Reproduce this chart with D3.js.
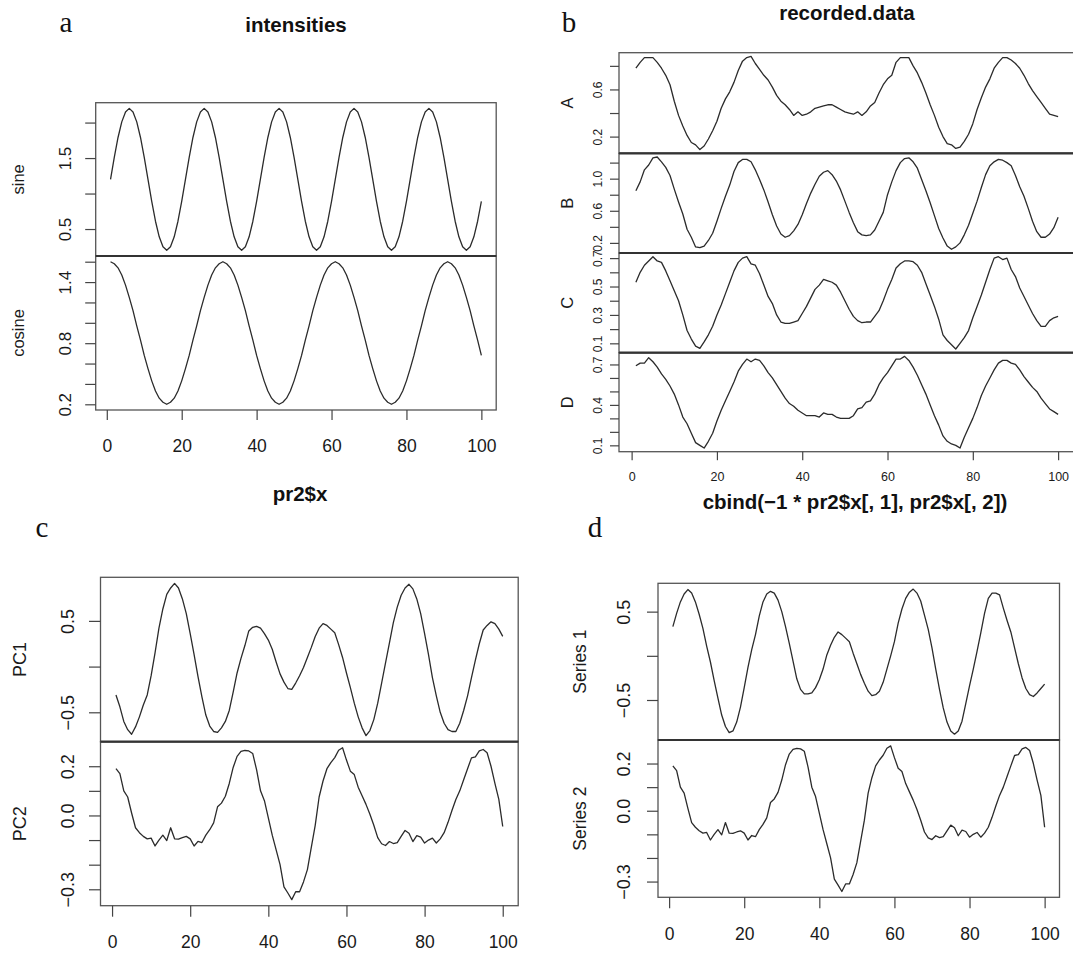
<!DOCTYPE html>
<html><head><meta charset="utf-8">
<script src="https://cdn.jsdelivr.net/npm/d3@7"></script>
<style>body{margin:0;background:#fff}svg{display:block}</style>
</head><body>
<svg id="chart" width="1073" height="953"></svg>
<script>
// ---------------- data ----------------
const xIndex = d3.range(1, 101);
const xTicks = [0, 20, 40, 60, 80, 100];

const sine = [
1.2,1.51,1.79,2.01,2.15,2.2,2.15,2.01,1.79,1.51, 1.2,0.89,0.61,0.39,0.25,0.2,0.25,0.39,0.61,0.89,
1.2,1.51,1.79,2.01,2.15,2.2,2.15,2.01,1.79,1.51, 1.2,0.89,0.61,0.39,0.25,0.2,0.25,0.39,0.61,0.89,
1.2,1.51,1.79,2.01,2.15,2.2,2.15,2.01,1.79,1.51, 1.2,0.89,0.61,0.39,0.25,0.2,0.25,0.39,0.61,0.89,
1.2,1.51,1.79,2.01,2.15,2.2,2.15,2.01,1.79,1.51, 1.2,0.89,0.61,0.39,0.25,0.2,0.25,0.39,0.61,0.89,
1.2,1.51,1.79,2.01,2.15,2.2,2.15,2.01,1.79,1.51, 1.2,0.89,0.61,0.39,0.25,0.2,0.25,0.39,0.61,0.89];
const cosine = [
1.6,1.58,1.54,1.47,1.37,1.25,1.12,0.97,0.83,0.68, 0.55,0.43,0.33,0.26,0.22,0.2,0.22,0.26,0.33,0.43,
0.55,0.68,0.83,0.97,1.12,1.25,1.37,1.47,1.54,1.58, 1.6,1.58,1.54,1.47,1.37,1.25,1.12,0.97,0.83,0.68,
0.55,0.43,0.33,0.26,0.22,0.2,0.22,0.26,0.33,0.43, 0.55,0.68,0.83,0.97,1.12,1.25,1.37,1.47,1.54,1.58,
1.6,1.58,1.54,1.47,1.37,1.25,1.12,0.97,0.83,0.68, 0.55,0.43,0.33,0.26,0.22,0.2,0.22,0.26,0.33,0.43,
0.55,0.68,0.83,0.97,1.12,1.25,1.37,1.47,1.54,1.58, 1.6,1.58,1.54,1.47,1.37,1.25,1.12,0.97,0.83,0.68];

const seriesA = [
.78,.83,.87,.87,.87,.83,.78,.72,.64,.50, .38,.29,.21,.15,.13,.09,.12,.18,.25,.33,
.44,.52,.58,.66,.76,.84,.87,.88,.82,.77, .72,.68,.62,.55,.50,.47,.43,.38,.41,.38,
.39,.41,.44,.45,.46,.47,.47,.45,.43,.41, .40,.39,.41,.38,.41,.46,.49,.57,.64,.69,
.72,.83,.87,.87,.87,.80,.74,.66,.57,.47, .38,.28,.20,.14,.13,.10,.11,.16,.22,.31,
.43,.53,.62,.69,.78,.83,.87,.87,.85,.82, .78,.72,.65,.59,.54,.49,.44,.39,.38,.37];
const seriesB = [
.85,.96,1.11,1.17,1.26,1.27,1.21,1.14,1.04,.87, .71,.56,.37,.27,.15,.14,.16,.23,.32,.47,
.63,.78,.92,1.09,1.20,1.24,1.24,1.21,1.11,.99, .86,.71,.55,.41,.31,.27,.29,.35,.43,.55,
.69,.82,.93,1.03,1.08,1.10,1.05,.97,.86,.72, .58,.45,.34,.30,.29,.30,.36,.47,.58,.80,
.96,1.10,1.20,1.25,1.26,1.21,1.13,.99,.85,.70, .54,.38,.26,.16,.12,.15,.20,.30,.42,.57,
.72,.89,1.05,1.16,1.21,1.24,1.23,1.20,1.16,1.04, .90,.78,.63,.47,.34,.27,.27,.31,.39,.52];
const seriesC = [
.53,.60,.65,.68,.71,.68,.67,.61,.54,.47, .40,.30,.19,.13,.08,.065,.11,.16,.22,.30,
.37,.45,.53,.61,.67,.70,.71,.66,.65,.59, .51,.43,.38,.30,.25,.24,.24,.25,.26,.31,
.36,.42,.48,.51,.55,.54,.53,.51,.46,.40, .34,.29,.26,.245,.25,.25,.29,.33,.40,.48,
.55,.63,.66,.68,.68,.675,.65,.60,.52,.44, .36,.27,.16,.12,.09,.06,.10,.14,.19,.28,
.36,.44,.53,.62,.70,.71,.69,.70,.62,.57, .49,.43,.37,.31,.26,.22,.22,.26,.28,.29];
const seriesD = [
.69,.71,.71,.75,.72,.68,.63,.59,.54,.48, .40,.31,.26,.19,.12,.10,.08,.13,.19,.28,
.36,.43,.50,.57,.65,.70,.74,.72,.74,.73, .69,.64,.60,.55,.50,.45,.41,.39,.36,.34,
.32,.32,.32,.31,.34,.33,.33,.31,.30,.30, .30,.32,.37,.38,.42,.43,.48,.55,.60,.64,
.69,.74,.74,.76,.73,.68,.62,.55,.48,.40, .32,.25,.17,.13,.11,.10,.08,.16,.23,.30,
.38,.47,.54,.60,.66,.71,.73,.73,.71,.70, .66,.61,.57,.53,.50,.45,.41,.37,.35,.33];

const pc1 = [
-.31,-.44,-.60,-.69,-.74,-.66,-.55,-.42,-.31,-.10, .15,.42,.63,.79,.86,.91,.86,.74,.58,.36,
.13,-.11,-.33,-.53,-.65,-.71,-.72,-.67,-.60,-.48, -.28,-.07,.09,.23,.39,.43,.44,.42,.36,.29,
.19,.05,-.08,-.17,-.24,-.25,-.18,-.10,-.01,.10, .21,.33,.42,.47,.45,.41,.37,.24,.10,-.07,
-.23,-.40,-.55,-.67,-.755,-.70,-.58,-.40,-.18,.04, .26,.48,.65,.78,.86,.90,.85,.74,.58,.36,
.13,-.12,-.32,-.50,-.62,-.69,-.71,-.71,-.62,-.48, -.32,-.12,.07,.25,.40,.45,.49,.47,.41,.33];
const pc2 = [
.19,.17,.10,.075,.01,-.05,-.07,-.085,-.095,-.092, -.124,-.10,-.08,-.102,-.05,-.095,-.096,-.09,-.085,-.095,
-.124,-.105,-.11,-.08,-.058,-.03,.035,.05,.078,.13, .195,.24,.26,.264,.262,.252,.185,.10,.06,-.01,
-.08,-.14,-.20,-.29,-.315,-.342,-.31,-.31,-.27,-.22, -.13,-.04,.075,.14,.19,.215,.235,.265,.275,.225,
.18,.166,.115,.08,.045,.005,-.04,-.09,-.115,-.122, -.106,-.114,-.11,-.085,-.061,-.072,-.106,-.082,-.088,-.112,
-.10,-.092,-.112,-.095,-.07,-.028,.02,.065,.10,.145, .19,.234,.238,.262,.268,.255,.20,.13,.065,-.045];

const series1 = [
.33,.48,.61,.70,.75,.71,.61,.47,.31,.11, -.07,-.28,-.48,-.67,-.80,-.87,-.85,-.75,-.58,-.36,
-.13,.07,.24,.45,.61,.70,.73,.71,.63,.50, .33,.14,-.06,-.26,-.38,-.43,-.43,-.42,-.36,-.27,
-.15,.01,.12,.21,.27,.24,.20,.16,.03,-.09, -.21,-.31,-.40,-.45,-.44,-.40,-.30,-.15,.00,.16,
.37,.53,.65,.72,.755,.71,.62,.46,.30,.09, -.15,-.38,-.59,-.75,-.85,-.887,-.85,-.74,-.54,-.34,
-.15,.05,.26,.48,.65,.71,.71,.69,.54,.40, .27,.09,-.09,-.25,-.37,-.44,-.46,-.42,-.37,-.32];
const series2 = [
.19,.17,.10,.075,.01,-.05,-.07,-.085,-.095,-.092, -.124,-.10,-.08,-.102,-.05,-.095,-.096,-.09,-.085,-.095,
-.124,-.105,-.11,-.08,-.058,-.03,.035,.05,.078,.13, .195,.24,.26,.264,.262,.252,.185,.10,.06,-.01,
-.08,-.14,-.20,-.29,-.315,-.342,-.31,-.31,-.27,-.22, -.13,-.04,.075,.14,.19,.215,.235,.265,.275,.225,
.18,.166,.115,.08,.045,.005,-.04,-.09,-.115,-.122, -.106,-.114,-.11,-.085,-.061,-.072,-.106,-.082,-.088,-.112,
-.10,-.092,-.112,-.095,-.07,-.028,.02,.065,.10,.145, .19,.234,.238,.262,.268,.255,.20,.13,.065,-.07];

// tick values and the tick labels that are printed
const sineTicks = [0.5, 1.0, 1.5, 2.0],            sineLabels = [0.5, 1.5];
const cosineTicks = [0.2,0.4,0.6,0.8,1.0,1.2,1.4,1.6], cosineLabels = [0.2, 0.8, 1.4];
const aTicks = [0.2, 0.4, 0.6, 0.8],               aLabels = [0.2, 0.6];
const bTicks = [0.2,0.4,0.6,0.8,1.0,1.2],          bLabels = [0.2, 0.6, 1.0];
const cTicks = [0.1,0.2,0.3,0.4,0.5,0.6,0.7],      cLabels = [0.1, 0.3, 0.5, 0.7];
const dTicks = [0.1,0.2,0.3,0.4,0.5,0.6,0.7],      dLabels = [0.1, 0.4, 0.7];
const pc1Ticks = [-0.5, 0.0, 0.5],                 pc1Labels = [-0.5, 0.5];
const pc2Ticks = [-0.3,-0.2,-0.1,0.0,0.1,0.2],     pc2Labels = [-0.3, 0.0, 0.2];
const s1Ticks = [-0.5, 0.0, 0.5],                  s1Labels = [-0.5, 0.5];
const s2Ticks = [-0.3,-0.2,-0.1,0.0,0.1,0.2],      s2Labels = [-0.3, 0.0, 0.2];

// ---------------- drawing ----------------
const svg = d3.select("#chart");
const SANS = "'Liberation Sans', Arial, Helvetica, sans-serif";
const SERIF = "'Liberation Serif', 'Times New Roman', serif";
const expand = ([a, b]) => { const r = b - a; return [a - 0.04 * r, b + 0.04 * r]; };
const fmt = d => (d < 0 ? "\u2212" : "") + Math.abs(d).toFixed(1);

const panels = [
  { left: 95.7, right: 496.2, xTickLen: 10, xLabelBase: 451.7, xFont: 17.5,
    yTickLen: 10.5, yLabelBase: 70.5, yFont: 17, nameBase: 24, nameFont: 16.5,
    subs: [
      { data: sine, top: 102.7, bottom: 256, ticks: sineTicks, labels: sineLabels, name: "sine" },
      { data: cosine, top: 256, bottom: 410, ticks: cosineTicks, labels: cosineLabels, name: "cosine" } ] },
  { left: 619, right: 1075, xTickLen: 8.5, xLabelBase: 480.7, xFont: 12.5,
    yTickLen: 9, yLabelBase: 601.7, yFont: 12, nameBase: 573, nameFont: 16.5,
    subs: [
      { data: seriesA, top: 52.7, bottom: 153.3, ticks: aTicks, labels: aLabels, name: "A" },
      { data: seriesB, top: 153.3, bottom: 253, ticks: bTicks, labels: bLabels, name: "B" },
      { data: seriesC, top: 253, bottom: 352.7, ticks: cTicks, labels: cLabels, name: "C" },
      { data: seriesD, top: 352.7, bottom: 451.7, ticks: dTicks, labels: dLabels, name: "D" } ] },
  { left: 100.5, right: 518.2, xTickLen: 11, xLabelBase: 948.3, xFont: 17.5,
    yTickLen: 11.5, yLabelBase: 74, yFont: 18, nameBase: 26, nameFont: 18,
    subs: [
      { data: pc1, top: 577.3, bottom: 741.7, ticks: pc1Ticks, labels: pc1Labels, name: "PC1" },
      { data: pc2, top: 741.7, bottom: 905.7, ticks: pc2Ticks, labels: pc2Labels, name: "PC2" } ] },
  { left: 658, right: 1059.5, xTickLen: 11, xLabelBase: 940, xFont: 17.5,
    yTickLen: 11, yLabelBase: 630, yFont: 18, nameBase: 586, nameFont: 17.5,
    subs: [
      { data: series1, top: 583.3, bottom: 740, ticks: s1Ticks, labels: s1Labels, name: "Series 1" },
      { data: series2, top: 740, bottom: 897.3, ticks: s2Ticks, labels: s2Labels, name: "Series 2" } ] }
];

panels.forEach(p => {
  const g = svg.append("g");
  const x = d3.scaleLinear().domain(expand(d3.extent(xIndex))).range([p.left, p.right]);

  p.subs.forEach((s, si) => {
    const y = d3.scaleLinear().domain(expand(d3.extent(s.data))).range([s.bottom, s.top]);

    // data line
    g.append("path")
      .datum(s.data)
      .attr("fill", "none").attr("stroke", "#2b2b2b").attr("stroke-width", 1.3)
      .attr("stroke-linejoin", "round")
      .attr("d", d3.line().x((d, i) => x(xIndex[i])).y(d => y(d)));

    // box
    g.append("rect")
      .attr("x", p.left).attr("y", s.top)
      .attr("width", p.right - p.left).attr("height", s.bottom - s.top)
      .attr("fill", "none").attr("stroke", "#555").attr("stroke-width", 1.3);

    // y axis
    const ya = g.append("g").attr("transform", `translate(${p.left},0)`)
      .call(d3.axisLeft(y).tickValues(s.ticks).tickSize(p.yTickLen)
        .tickFormat(d => s.labels.includes(d) ? fmt(d) : ""));
    ya.select(".domain").remove();
    ya.selectAll(".tick line").attr("stroke", "#444").attr("stroke-width", 1.2);
    ya.selectAll(".tick text")
      .attr("x", 0).attr("dy", 0).attr("text-anchor", "middle")
      .attr("transform", `translate(${p.yLabelBase - p.left},0) rotate(-90)`)
      .attr("fill", "#1a1a1a")
      .style("font-family", SANS).style("font-size", p.yFont + "px");

    // series name
    g.append("text")
      .attr("transform", `translate(${p.nameBase},${(s.top + s.bottom) / 2}) rotate(-90)`)
      .attr("text-anchor", "middle").attr("fill", "#1a1a1a")
      .style("font-family", SANS).style("font-size", p.nameFont + "px")
      .text(s.name);

    if (si > 0) {
      g.append("line")
        .attr("x1", p.left).attr("x2", p.right).attr("y1", s.top).attr("y2", s.top)
        .attr("stroke", "#333").attr("stroke-width", 2.2);
    }
  });

  // x axis
  const bottom = p.subs[p.subs.length - 1].bottom;
  const xa = g.append("g").attr("transform", `translate(0,${bottom})`)
    .call(d3.axisBottom(x).tickValues(xTicks).tickSize(p.xTickLen).tickFormat(d3.format("d")));
  xa.select(".domain").remove();
  xa.selectAll(".tick line").attr("stroke", "#444").attr("stroke-width", 1.2);
  xa.selectAll(".tick text")
    .attr("y", p.xLabelBase - bottom).attr("dy", 0).attr("fill", "#1a1a1a")
    .style("font-family", SANS).style("font-size", p.xFont + "px");
});

// titles, axis titles and panel letters
const texts = [
  { t: "a", x: 66, y: 32, f: SERIF, s: 29, w: "normal" },
  { t: "b", x: 569, y: 32, f: SERIF, s: 29, w: "normal" },
  { t: "c", x: 42, y: 537, f: SERIF, s: 29, w: "normal" },
  { t: "d", x: 595, y: 537, f: SERIF, s: 29, w: "normal" },
  { t: "intensities", x: 296, y: 32, f: SANS, s: 20.5, w: "bold" },
  { t: "recorded.data", x: 847, y: 19.5, f: SANS, s: 20.5, w: "bold" },
  { t: "pr2$x", x: 300, y: 501, f: SANS, s: 20.5, w: "bold" },
  { t: "cbind(\u22121 * pr2$x[, 1], pr2$x[, 2])", x: 855, y: 509, f: SANS, s: 20.5, w: "bold" }
];
svg.selectAll("text.label").data(texts).enter().append("text")
  .attr("class", "label")
  .attr("x", d => d.x).attr("y", d => d.y)
  .attr("text-anchor", "middle").attr("fill", "#111")
  .style("font-family", d => d.f).style("font-size", d => d.s + "px")
  .style("font-weight", d => d.w)
  .text(d => d.t);
</script>
</body></html>
